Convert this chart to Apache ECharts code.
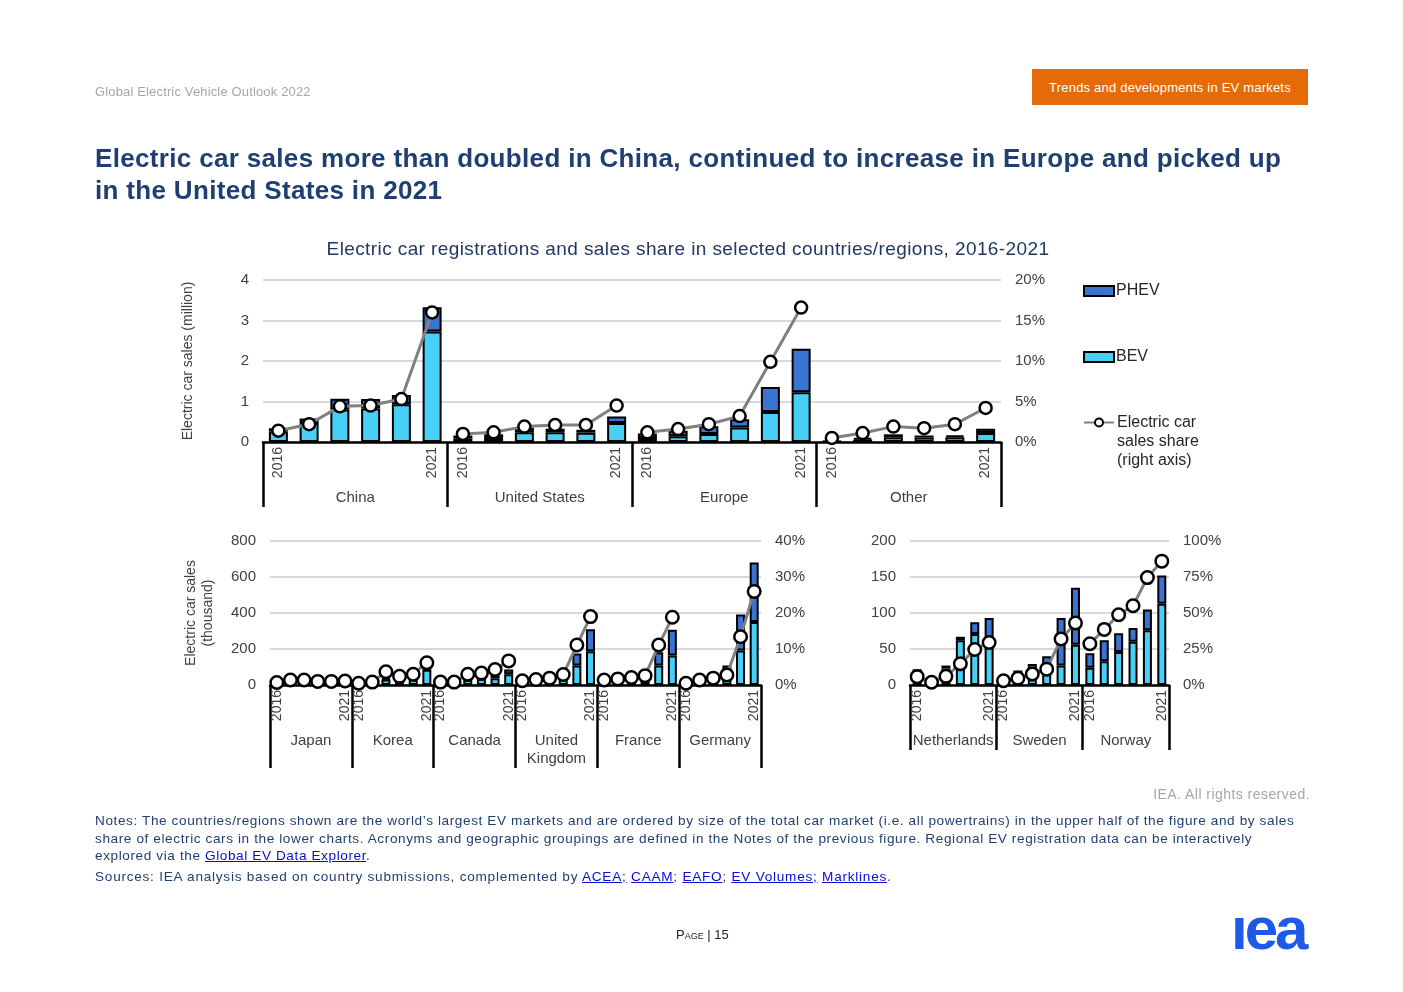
<!DOCTYPE html>
<html>
<head>
<meta charset="utf-8">
<script src="https://cdn.jsdelivr.net/npm/echarts/dist/echarts.min.js"></script>
<style>
  html, body { margin: 0; padding: 0; background: #fff; }
  body { width: 1403px; height: 992px; position: relative; overflow: hidden; font-family: "Liberation Sans", Arial, sans-serif; }
  #chart { position: absolute; left: 0; top: 0; width: 1403px; height: 992px; }
  .t { position: absolute; white-space: nowrap; }
  #hdr { left: 95px; top: 84px; font-size: 13px; color: #a6a6a6; letter-spacing: 0.15px; }
  #tag { left: 1032px; top: 69px; width: 276px; height: 36px; line-height: 37px; background: #e36c09; color: #fff; font-size: 13px; text-align: center; letter-spacing: 0.2px; }
  #title { left: 95px; top: 142px; font-size: 26px; font-weight: bold; color: #1f3f73; line-height: 32px; letter-spacing: 0.33px; }
  #sub { left: 238px; width: 900px; top: 238px; text-align: center; font-size: 19px; color: #1f3864; letter-spacing: 0.4px; }
  #rights { right: 93px; top: 786px; font-size: 14px; color: #a6a6a6; letter-spacing: 0.45px; }
  #notes { left: 95px; top: 812px; font-size: 13.6px; line-height: 17.5px; color: #1f3f73; letter-spacing: 0.6px; }
  #src { left: 95px; top: 868px; font-size: 13.6px; line-height: 17.5px; color: #1f3f73; letter-spacing: 0.75px; }
  a { color: #0b0bd6; text-decoration: underline; }
  #page { left: 676px; top: 927px; font-size: 13px; color: #222; font-variant: small-caps; }
  #logo { left: 1231px; top: 899px; font-size: 60px; line-height: 60px; font-weight: bold; color: #1d5ae8; letter-spacing: -3px; }
</style>
</head>
<body>
<div id="chart"></div>
<div class="t" id="hdr">Global Electric Vehicle Outlook 2022</div>
<div class="t" id="tag">Trends and developments in EV markets</div>
<div class="t" id="title">Electric car sales more than doubled in China, continued to increase in Europe and picked up<br>in the United States in 2021</div>
<div class="t" id="sub">Electric car registrations and sales share in selected countries/regions, 2016-2021</div>
<div class="t" id="rights">IEA. All rights reserved.</div>
<div class="t" id="notes">Notes: The countries/regions shown are the world’s largest EV markets and are ordered by size of the total car market (i.e. all powertrains) in the upper half of the figure and by sales<br>share of electric cars in the lower charts. Acronyms and geographic groupings are defined in the Notes of the previous figure. Regional EV registration data can be interactively<br>explored via the <a>Global EV Data Explorer</a>.</div>
<div class="t" id="src">Sources: IEA analysis based on country submissions, complemented by <a>ACEA;</a> <a>CAAM</a>; <a>EAFO</a>; <a>EV Volumes;</a> <a>Marklines</a>.</div>
<div class="t" id="page">Page | 15</div>
<div class="t" id="logo">ıea</div>
<script>
// ---------- DATA ----------
const years = ['2016', '2017', '2018', '2019', '2020', '2021'];

// Top chart (million)
const topGroups = ['China', 'United States', 'Europe', 'Other'];
const topBEV = [0.26, 0.47, 0.80, 0.83, 0.93, 2.73,
                0.09, 0.10, 0.24, 0.24, 0.23, 0.47,
                0.10, 0.14, 0.20, 0.36, 0.74, 1.23,
                0.01, 0.06, 0.12, 0.11, 0.12, 0.22];
const topPHEV = [0.08, 0.11, 0.27, 0.23, 0.23, 0.60,
                 0.07, 0.09, 0.12, 0.09, 0.07, 0.16,
                 0.11, 0.14, 0.19, 0.20, 0.62, 1.07,
                 0.01, 0.04, 0.07, 0.05, 0.04, 0.11];
const topShare = [1.4, 2.2, 4.4, 4.5, 5.3, 16.0,
                  1.0, 1.2, 1.9, 2.1, 2.1, 4.5,
                  1.2, 1.6, 2.2, 3.2, 9.9, 16.6,
                  0.5, 1.1, 1.9, 1.7, 2.2, 4.2];

// Bottom-left chart (thousand)
const blGroups = ['Japan', 'Korea', 'Canada', 'United\nKingdom', 'France', 'Germany'];
const blBEV = [15, 18, 26, 21, 15, 21,
               5, 14, 30, 32, 31, 85,
               5, 9, 28, 35, 38, 60,
               11, 14, 16, 38, 108, 187,
               29, 31, 40, 47, 108, 164,
               12, 25, 36, 63, 192, 350];
const blPHEV = [10, 36, 26, 18, 14, 23,
                1, 1, 6, 4, 10, 15,
                6, 10, 16, 16, 17, 26,
                27, 33, 44, 37, 67, 123,
                17, 19, 20, 22, 74, 143,
                13, 30, 32, 46, 200, 330];
const blShare = [0.7, 1.4, 1.4, 1.0, 1.0, 1.1,
                 0.5, 0.8, 3.7, 2.4, 3.0, 6.2,
                 0.8, 0.8, 3.0, 3.3, 4.3, 6.7,
                 1.2, 1.5, 1.9, 2.9, 11.1, 19.0,
                 1.4, 1.7, 2.1, 2.6, 11.1, 18.8,
                 0.5, 1.4, 1.9, 2.8, 13.4, 26.0];

// Bottom-right chart (thousand)
const brGroups = ['Netherlands', 'Sweden', 'Norway'];
const brBEV = [4, 8, 23, 62, 71, 64,
               3, 4, 8, 16, 27, 56,
               24, 33, 46, 60, 76, 113];
const brPHEV = [18, 3, 4, 5, 16, 29,
                10, 16, 21, 24, 66, 79,
                20, 29, 26, 19, 29, 39];
const brShare = [5.8, 1.9, 6.0, 14.7, 24.7, 29.5,
                 3.0, 4.7, 7.7, 11.0, 32.0, 43.0,
                 28.6, 38.6, 48.8, 55.0, 74.6, 86.0];

// ---------- BUILD ----------
const FONT = '"Liberation Sans", Arial, sans-serif';
const TXT = '#404040';
const C_BEV = '#48cff6';
const C_PHEV = '#3a73d2';
const SHARE_NAME = 'Electric car sales share (right axis)';

const legendBase = { left: 1083, padding: 0, itemWidth: 30, itemHeight: 10, itemGap: 0 };
const option = {
  animation: false,
  textStyle: { fontFamily: FONT },
  grid: [], xAxis: [], yAxis: [], series: [],
  legend: [
    Object.assign({ data: [{ name: 'PHEV', icon: 'rect' }], top: 283,
      textStyle: { fontSize: 16, color: '#262626', fontFamily: FONT, padding: [0, 0, 0, -3] } }, legendBase),
    Object.assign({ data: [{ name: 'BEV', icon: 'rect' }], top: 349,
      textStyle: { fontSize: 16, color: '#262626', fontFamily: FONT, padding: [0, 0, 0, -3] } }, legendBase),
    Object.assign({ data: [SHARE_NAME], top: 375,
      formatter: () => '\n\nElectric car\nsales share\n(right axis)',
      textStyle: { fontSize: 16, lineHeight: 19, color: '#262626', fontFamily: FONT, padding: [0, 0, 0, -2] } }, legendBase)
  ]
};

function addChart(i, cfg) {
  const keys = [];
  cfg.groups.forEach(g => years.forEach(y => keys.push(g + '|' + y)));
  option.grid.push({ left: cfg.left, top: cfg.top, width: cfg.width, height: cfg.height,
                     containLabel: false, outerBoundsMode: 'none' });
  // year axis
  option.xAxis.push({
    type: 'category', gridIndex: i, data: keys, position: 'bottom',
    axisLine: { show: true, onZero: false, lineStyle: { color: '#000', width: 2.5 } },
    axisTick: { show: false },
    axisLabel: { interval: 0, rotate: 90, margin: 5, fontSize: 14, color: TXT, fontFamily: FONT,
                 formatter: (v, j) => (j % 6 === 0 || j % 6 === 5) ? String(v).split('|')[1] : '' },
    splitLine: { show: false }
  });
  // group axis (separators + names)
  option.xAxis.push({
    type: 'category', gridIndex: i, data: cfg.groups, position: 'bottom',
    axisLine: { show: false, onZero: false },
    axisTick: { show: true, interval: 0, length: cfg.sepLen, lineStyle: { color: '#000', width: 2.5 } },
    axisLabel: { interval: 0, margin: 47, fontSize: 15, lineHeight: 18, color: TXT, fontFamily: FONT },
    splitLine: { show: false }
  });
  option.yAxis.push({
    type: 'value', gridIndex: i, position: 'left', min: 0, max: cfg.lmax, interval: cfg.lint,
    axisLine: { show: false }, axisTick: { show: false },
    axisLabel: { margin: 14, fontSize: 15, color: TXT, fontFamily: FONT },
    splitLine: { show: true, lineStyle: { color: '#d9d9d9', width: 2 } },
    name: cfg.yName || '', nameLocation: 'middle', nameGap: cfg.nameGap || 50,
    nameTextStyle: { fontSize: 14, lineHeight: 17, color: TXT, fontFamily: FONT }
  });
  option.yAxis.push({
    type: 'value', gridIndex: i, position: 'right', min: 0, max: cfg.rmax, interval: cfg.rint,
    axisLine: { show: false }, axisTick: { show: false },
    axisLabel: { margin: 14, fontSize: 15, color: TXT, fontFamily: FONT, formatter: '{value}%' },
    splitLine: { show: false }
  });
  const xa = 2 * i, ya = 2 * i;
  option.series.push({
    type: 'bar', name: 'BEV', xAxisIndex: xa, yAxisIndex: ya, stack: 's' + i,
    data: cfg.bev, barWidth: cfg.barWidth,
    itemStyle: { color: C_BEV, borderColor: '#000', borderWidth: 2 }
  });
  option.series.push({
    type: 'bar', name: 'PHEV', xAxisIndex: xa, yAxisIndex: ya, stack: 's' + i,
    data: cfg.phev, barWidth: cfg.barWidth,
    itemStyle: { color: C_PHEV, borderColor: '#000', borderWidth: 2 }
  });
  cfg.groups.forEach((g, gi) => {
    option.series.push({
      type: 'line', name: SHARE_NAME, xAxisIndex: xa, yAxisIndex: ya + 1, z: 5,
      data: keys.map((k, j) => Math.floor(j / 6) === gi ? cfg.share[j] : '-'),
      connectNulls: false,
      symbol: 'circle', symbolSize: cfg.sym, showAllSymbol: true,
      lineStyle: { color: '#808080', width: 3 },
      itemStyle: { color: '#fff', borderColor: '#000', borderWidth: 2.5 }
    });
  });
}

addChart(0, { groups: topGroups, bev: topBEV, phev: topPHEV, share: topShare,
  left: 263, top: 280, width: 738, height: 162, lmax: 4, lint: 1, rmax: 20, rint: 5,
  sepLen: 65, barWidth: 19, sym: 12, yName: 'Electric car sales (million)', nameGap: 66 });
addChart(1, { groups: blGroups, bev: blBEV, phev: blPHEV, share: blShare,
  left: 270, top: 541, width: 491, height: 144, lmax: 800, lint: 200, rmax: 40, rint: 10,
  sepLen: 83, barWidth: 9, sym: 12.5, yName: 'Electric car sales\n(thousand)', nameGap: 53 });
addChart(2, { groups: brGroups, bev: brBEV, phev: brPHEV, share: brShare,
  left: 910, top: 541, width: 259, height: 144, lmax: 200, lint: 50, rmax: 100, rint: 25,
  sepLen: 65, barWidth: 9, sym: 12.5 });

const chart = echarts.init(document.getElementById('chart'), null, { renderer: 'canvas' });
chart.setOption(option);
</script>
</body>
</html>
